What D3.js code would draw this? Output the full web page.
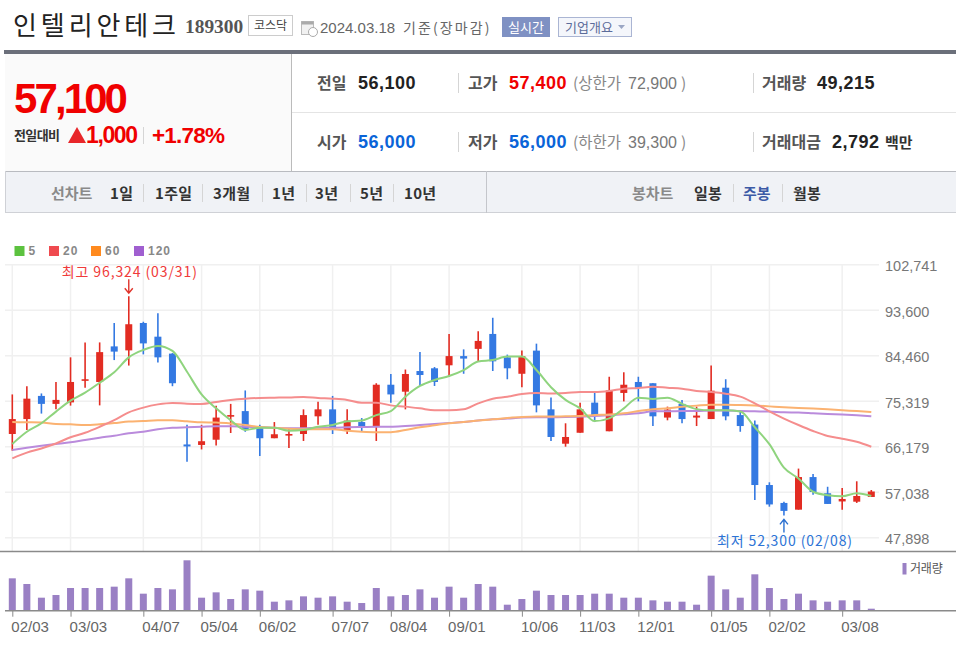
<!DOCTYPE html>
<html>
<head>
<meta charset="utf-8">
<script src="https://cdn.jsdelivr.net/npm/d3@7"></script>
<style>
  html, body { margin: 0; padding: 0; background: #fff; overflow: hidden; }
  svg { display: block; }
</style>
</head>
<body>
<script>
// weekly candles
const dates = ["02/03","02/10","02/17","02/24","03/03","03/10","03/17","03/24","03/31","04/07",
  "04/14","04/21","04/28","05/04","05/12","05/19","05/26","06/02","06/09","06/16",
  "06/23","06/30","07/07","07/14","07/21","07/28","08/04","08/11","08/18","08/25",
  "09/01","09/08","09/15","09/22","09/27","10/06","10/13","10/20","10/27","11/03",
  "11/10","11/17","11/24","12/01","12/08","12/15","12/22","12/28","01/05","01/12",
  "01/19","01/26","02/02","02/08","02/16","02/23","02/29","03/08","03/15","03/18"];
const opens = [68650,71650,76300,74700,75000,79350,79100,86250,85450,90950,
  88200,84800,66550,66450,67500,72200,73250,70000,67800,68400,
  68650,72200,73600,69450,71050,70050,78550,77150,81300,81850,
  82450,84300,85750,88750,84050,80750,85400,73600,66700,68900,
  74950,69200,76900,79100,78850,71950,74700,71950,71650,77950,
  72450,70550,58400,54800,53450,60000,56750,55100,55050,56000];
const highs = [76600,78250,76800,79100,84050,87050,87050,90950,96324,91200,
  92900,84900,70500,70500,74300,74700,77400,70500,71050,69800,
  73600,75150,76300,73600,71850,78850,80700,81600,85100,82100,
  88750,85650,89300,92000,84600,85400,86800,76000,70800,74950,
  77150,80150,81050,80150,78850,74150,75500,74150,82400,79650,
  73350,71350,58950,55050,61700,60600,58050,57800,59150,57400];
const lows = [65300,69450,72750,73600,74350,77950,74400,83500,82400,84650,
  83000,78250,63100,65550,66350,68850,69100,64250,67800,65850,
  67250,70500,68650,68650,69200,67250,74950,73600,78300,78300,
  80150,80750,83200,81300,79650,78050,73000,67250,66100,68900,
  71050,69200,75200,75200,70250,71400,70800,70250,71650,71400,
  69100,55400,54050,52300,53450,56450,54600,53450,54800,56000];
const closes = [71650,75750,74700,75500,79100,79650,85100,85200,90700,86850,
  84050,78850,66150,67200,71950,72450,69450,67800,68600,68650,
  72450,73600,69450,71350,70000,78550,76600,80700,80500,79100,
  84300,83800,87350,83250,81850,84300,74400,68050,68050,73600,
  72450,77400,78550,77950,72200,73550,71650,72350,77350,72200,
  70250,58400,54500,53200,60000,57000,54600,55600,56200,57100];
const volumes = [795400,656000,319800,385400,557600,557600,557600,590400,795400,418200,
  557600,524800,1238200,319800,451000,287000,524800,492000,221400,254200,
  352600,319800,352600,221400,188600,557600,352600,385400,524800,319800,
  590400,319800,656000,590400,147600,287000,492000,385400,385400,385400,
  418200,418200,319800,319800,254200,221400,221400,147600,861000,524800,
  319800,893800,557600,287000,418200,254200,221400,254200,254200,49215];

// moving averages
const ma5 = [66650,69100,70800,73150,75350,76950,78950,81050,84050,85550,
  86350,85350,81150,76600,73800,71400,69450,69900,69900,69300,
  69450,70100,70450,71200,71350,72450,73250,76150,78300,79500,
  80300,81500,83200,83500,84200,84200,81500,78050,75500,73800,
  71250,71800,73800,75950,75700,75950,74700,73650,73400,73400,
  73150,70000,66600,61900,59700,57050,56350,56150,56750,56200];
const ma20 = [63750,64900,65750,66750,68000,68900,70100,71450,73000,73950,
  74600,74900,74750,74700,75100,75500,75750,75900,75950,76000,
  76100,75900,75750,75500,74950,74950,74400,74150,73800,73400,
  73400,73600,74800,75750,76150,76700,76900,76800,76900,77100,
  77100,77300,77750,77900,78150,77950,77750,77300,77100,76750,
  76150,74800,73200,71750,70450,69250,68250,67700,67100,66100];
const ma60 = [71050,71000,70950,70650,70600,70450,70600,70850,71150,71250,
  71400,71400,71200,71000,70950,70750,70450,70050,69900,69700,
  69600,69600,69600,69300,69100,69000,69000,69450,70000,70400,
  70800,71050,71350,71600,71850,72050,72150,72150,72200,72250,
  72450,72550,72800,73250,73600,73800,74100,74350,74550,74550,
  74500,74400,74200,74000,73850,73750,73600,73400,73250,73050];
const ma120 = [65450,65900,66300,66650,67000,67450,67900,68300,68800,69100,
  69600,69900,70000,70100,70200,70200,70100,70050,69900,69800,
  69800,69900,69900,70000,70050,70100,70100,70250,70450,70650,
  70850,71050,71350,71600,71750,71950,72000,72000,72050,72150,
  72250,72400,72600,72800,73200,73200,73250,73250,73350,73350,
  73250,73200,73150,73000,72950,72800,72650,72550,72400,72200];

const priceTicks = [47898,57038,66179,75319,84460,93600,102741];
const dateTicks = ["02/03","03/03","04/07","05/04","06/02","07/07","08/04","09/01","10/06","11/03","12/01","01/05","02/02","03/08"];
const maNames = ["5","20","60","120"];
const maLegendColors = ["#5cc23f","#ef4a4f","#ff8a1e","#a05fd0"];
const maLineColors = ["#8fd47e","#f58d8d","#fbb271","#ba8bdc"];

const rangeTabs = ["1일","1주일","3개월","1년","3년","5년","10년"];
const rangeTabX = [110,155,213,272,315,360,404];
const rangeSepX = [143,202,262,306,350,393];

const svg = d3.select("body").append("svg")
  .attr("width", 956)
  .attr("height", 654);

const sans = "'Liberation Sans', Arial, sans-serif";
const kr = "'Noto Sans CJK KR', sans-serif";

// little helper for all the label text
function txt(x, y, s, o) {
  o = o || {};
  return svg.append("text")
    .attr("x", x).attr("y", y)
    .attr("fill", o.fill || "#333")
    .attr("text-anchor", o.anchor || "start")
    .style("font-family", o.font || kr)
    .style("font-size", (o.size || 14) + "px")
    .style("font-weight", o.weight || 400)
    .style("letter-spacing", (o.ls || 0) + "px")
    .text(s);
}
function rect(x, y, w, h, fill, stroke) {
  return svg.append("rect")
    .attr("x", x).attr("y", y).attr("width", w).attr("height", h)
    .attr("fill", fill).attr("stroke", stroke || "none");
}
function sep(x, y1, y2, c) {
  svg.append("line").attr("x1", x).attr("x2", x).attr("y1", y1).attr("y2", y2)
    .attr("stroke", c || "#d5d5d5");
}

// ---- title row
txt(13, 35, "인텔리안테크", {size: 26, fill: "#222", ls: 3.9});
txt(185, 33, "189300", {font: "'Liberation Serif', serif", size: 19.4, weight: 700, fill: "#555"});
rect(248.5, 15.5, 44, 20, "#fff", "#ccc");
txt(270.5, 30, "코스닥", {size: 12, fill: "#444", anchor: "middle"});
// calendar icon
rect(301.5, 21.5, 12, 13, "#f1f1f1", "#bbb");
rect(301.5, 21.5, 12, 3, "#aaa");
svg.append("circle").attr("cx", 313).attr("cy", 32).attr("r", 4.5).attr("fill", "#fff").attr("stroke", "#aaa");
txt(320, 33, "2024.03.18", {font: sans, size: 15, fill: "#666"});
txt(403, 33, "기준(장마감)", {size: 14, fill: "#666", ls: 2.1});
rect(502, 17, 48, 20, "#7f91c3");
txt(526, 32, "실시간", {size: 13, fill: "#fff", anchor: "middle"});
rect(558.5, 17.5, 73, 19, "#f4f6fb", "#aab5d3");
txt(565, 32, "기업개요", {size: 13, fill: "#5c6c9a"});
svg.append("path").attr("d", "M618,25h7l-3.5,4z").attr("fill", "#9aa6c4");

rect(4, 50, 952, 4, "#6b6f7a");

// ---- price block
rect(5, 54, 286, 117, "#fafafa");
sep(291.5, 54, 171, "#bbb");
svg.append("line").attr("x1", 292).attr("x2", 956).attr("y1", 112.5).attr("y2", 112.5).attr("stroke", "#e4e4e4");

txt(14, 113, "57,100", {font: sans, size: 42, weight: 700, fill: "#f00000", ls: -2.9});
txt(14, 140, "전일대비", {size: 13, weight: 700, fill: "#333", ls: -0.6});
svg.append("path").attr("d", "M77,127L86,143H68z").attr("fill", "#e8262a");
txt(86, 143, "1,000", {font: sans, size: 23, weight: 700, fill: "#f00000", ls: -1.4});
sep(143.5, 127, 144);
txt(152, 143, "+1.78%", {font: sans, size: 22.5, weight: 700, fill: "#f00000", ls: -0.8});

const lab = {size: 16, weight: 700, fill: "#555"};
const num = {font: sans, size: 18, weight: 700, fill: "#222", ls: 0.5};
const up = Object.assign({}, num, {fill: "#f00000"});
const dn = Object.assign({}, num, {fill: "#0a64d8"});
const lim = {size: 15.5, fill: "#888"};
const limN = {font: sans, size: 16, fill: "#777"};

txt(317, 89, "전일", lab);
txt(358, 89, "56,100", num);
sep(458.5, 73, 93);
txt(468, 89, "고가", lab);
txt(509, 89, "57,400", up);
txt(573, 89, "(상한가", lim);
txt(628, 89, "72,900", limN);
txt(681, 89, ")", lim);
sep(753.5, 73, 93);
txt(762, 89, "거래량", lab);
txt(817, 89, "49,215", num);

txt(317, 148, "시가", lab);
txt(358, 148, "56,000", dn);
sep(458.5, 132, 152);
txt(468, 148, "저가", lab);
txt(509, 148, "56,000", dn);
txt(573, 148, "(하한가", lim);
txt(628, 148, "39,300", limN);
txt(681, 148, ")", lim);
sep(753.5, 132, 152);
txt(762, 148, "거래대금", lab);
txt(832, 148, "2,792", num);
txt(885, 148, "백만", {size: 15, weight: 700, fill: "#333"});

// ---- tabs
rect(5, 171.5, 951, 41, "#f0f2f6");
svg.append("line").attr("x1", 5).attr("x2", 956).attr("y1", 171.5).attr("y2", 171.5).attr("stroke", "#b9bbc0");
svg.append("line").attr("x1", 5).attr("x2", 956).attr("y1", 212.5).attr("y2", 212.5).attr("stroke", "#cfd1d6");
sep(5.5, 171, 213, "#cfd1d6");
sep(486.5, 171, 213, "#c4c6cb");

const tab = {size: 15, weight: 700, fill: "#333", ls: 0.3};
txt(51, 199, "선차트", {size: 15, weight: 700, fill: "#8a8a8a"});
rangeTabs.forEach((t, i) => txt(rangeTabX[i], 199, t, tab));
rangeSepX.forEach(x => sep(x + 0.5, 184, 202));
txt(632, 199, "봉차트", {size: 15, weight: 700, fill: "#8a8a8a"});
txt(694, 199, "일봉", tab);
sep(733.5, 184, 202);
txt(743, 199, "주봉", {size: 15, weight: 700, fill: "#3c5aa6"});
sep(782.5, 184, 202);
txt(793, 199, "월봉", tab);

// ---- legend
const legendX = [14.5, 49, 91, 134];
maNames.forEach((n, i) => {
  rect(legendX[i], 246, 10, 10, maLegendColors[i]);
  txt(legendX[i] + 14, 255, n, {font: sans, size: 12, weight: 700, fill: "#888", ls: 1});
});

// ---- scales
const x = d3.scalePoint().domain(dates).range([12.3, 871.3]);
const y = d3.scaleLinear().domain([47898, 102741]).range([537.3, 264.3]);
const v = d3.scaleLinear().domain([0, d3.max(volumes)]).range([610.7, 560.3]);
const plotLeft = 5, plotRight = 879;

// price axis + horizontal grid
const yAxis = svg.append("g")
  .attr("transform", "translate(" + plotRight + ",0)")
  .call(d3.axisRight(y).tickValues(priceTicks).tickFormat(d3.format(",")).tickSize(-(plotRight - plotLeft)).tickPadding(6));
yAxis.select(".domain").remove();
yAxis.selectAll(".tick line").attr("stroke", "#f0f0f0").attr("stroke-width", 1.5);
yAxis.selectAll(".tick text")
  .attr("fill", "#777")
  .attr("dy", "0.43em")
  .style("font-family", sans)
  .style("font-size", "14.5px");

// vertical grid
svg.append("g").selectAll("line").data(dateTicks).enter().append("line")
  .attr("x1", d => x(d)).attr("x2", d => x(d))
  .attr("y1", 264).attr("y2", 551)
  .attr("stroke", "#f0f0f0").attr("stroke-width", 1.5);

// candles
const idx = d3.range(dates.length);
const candle = svg.append("g").selectAll("g").data(idx).enter().append("g");
const cColor = i => closes[i] >= opens[i] ? "#e22c22" : "#3479e2";
candle.append("line")
  .attr("x1", i => x(dates[i])).attr("x2", i => x(dates[i]))
  .attr("y1", i => y(highs[i])).attr("y2", i => y(lows[i]))
  .attr("stroke", cColor).attr("stroke-width", 1.6);
candle.append("rect")
  .attr("x", i => x(dates[i]) - 3.5)
  .attr("width", 7)
  .attr("y", i => y(Math.max(opens[i], closes[i])))
  .attr("height", i => Math.max(1.6, Math.abs(y(opens[i]) - y(closes[i]))))
  .attr("fill", cColor);

// moving averages
const line = d3.line().x((d, i) => x(dates[i])).y(d => y(d)).curve(d3.curveMonotoneX);
[ma120, ma60, ma20, ma5].forEach((s, i) => {
  svg.append("path").datum(s)
    .attr("d", line)
    .attr("fill", "none")
    .attr("stroke", maLineColors[3 - i])
    .attr("stroke-width", 2);
});

// high / low notes
const hiX = x("03/31"), loX = x("02/08");
const hiY = y(d3.max(highs)), loY = y(d3.min(lows));
svg.append("path")
  .attr("d", "M" + hiX + "," + (hiY - 17) + "V" + (hiY - 4) + "M" + (hiX - 4) + "," + (hiY - 8) + "L" + hiX + "," + (hiY - 3) + "L" + (hiX + 4) + "," + (hiY - 8))
  .attr("fill", "none").attr("stroke", "#e0332a").attr("stroke-width", 1.4);
txt(hiX + 1, hiY - 19, "최고 96,324 (03/31)", {size: 14, fill: "#f03a3a", anchor: "middle", ls: 0.9});
svg.append("path")
  .attr("d", "M" + loX + "," + (loY + 17) + "V" + (loY + 5) + "M" + (loX - 4) + "," + (loY + 9) + "L" + loX + "," + (loY + 4) + "L" + (loX + 4) + "," + (loY + 9))
  .attr("fill", "none").attr("stroke", "#2a70d0").attr("stroke-width", 1.4);
txt(loX + 1, loY + 31, "최저 52,300 (02/08)", {size: 14, fill: "#2d74d6", anchor: "middle", ls: 0.9});

// ---- volume
svg.append("line").attr("x1", 0).attr("x2", 956).attr("y1", 551.5).attr("y2", 551.5).attr("stroke", "#8a8a8a").attr("stroke-width", 1.5);
svg.append("g").selectAll("rect").data(volumes).enter().append("rect")
  .attr("x", (d, i) => x(dates[i]) - 3.5)
  .attr("width", 7)
  .attr("y", d => v(d))
  .attr("height", d => v(0) - v(d))
  .attr("fill", "#9a80c4");

const xAxis = svg.append("g")
  .attr("transform", "translate(0," + v(0) + ")")
  .call(d3.axisBottom(x).tickValues(dateTicks).tickSize(6).tickPadding(5));
xAxis.select(".domain").remove();
xAxis.selectAll(".tick line").attr("stroke", "#8a8a8a");
xAxis.selectAll(".tick text")
  .attr("text-anchor", "start")
  .attr("dx", -1.5)
  .attr("fill", "#666")
  .style("font-family", sans)
  .style("font-size", "15px");
svg.append("line").attr("x1", 5).attr("x2", 956).attr("y1", v(0)).attr("y2", v(0)).attr("stroke", "#8a8a8a").attr("stroke-width", 1.4);

rect(902.5, 563, 4, 11.5, "#9a80c4");
txt(910, 573, "거래량", {size: 12, fill: "#555", ls: -0.2});
</script>
</body>
</html>
